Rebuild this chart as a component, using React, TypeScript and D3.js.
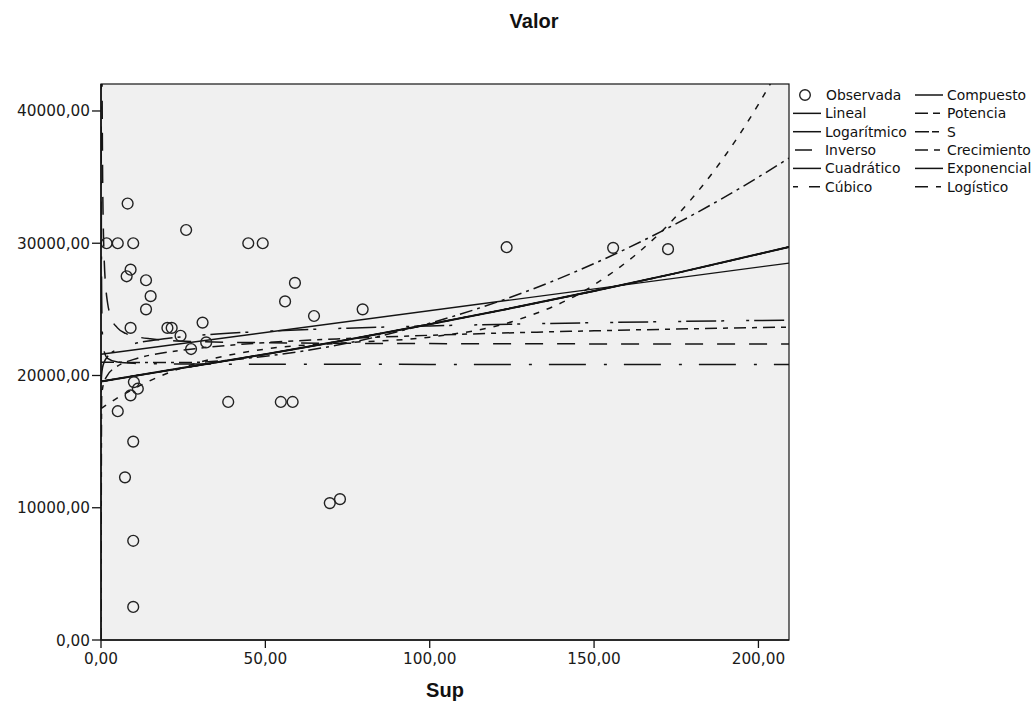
import React from "react";
import * as d3 from "d3";

// ---------- data ----------
const supValues = [1.7, 5.1, 9.8, 8.1, 25.9, 44.8, 49.2, 9.0, 7.8, 13.7, 59.0, 15.1, 56.0, 13.7, 64.8, 30.9, 9.0, 20.2, 21.5, 24.2, 32.0, 27.4, 10.0, 11.2, 9.0, 5.1, 38.7, 54.7, 58.3, 9.8, 7.3, 9.8, 9.8, 79.6, 123.4, 155.8, 172.5, 69.6, 72.7];
const valorValues = [30000, 30000, 30000, 33000, 31000, 30000, 30000, 28000, 27500, 27200, 27000, 26000, 25600, 25000, 24500, 24000, 23600, 23600, 23600, 23000, 22500, 22000, 19500, 19000, 18500, 17300, 18000, 18000, 18000, 15000, 12300, 7500, 2500, 25000, 29700, 29650, 29550, 10350, 10650];

const linealT = [0, 209.3];
const linealV = [21600, 28500];
const logT = [0.02, 0.05, 0.1, 0.2, 0.5, 1, 2, 5, 10, 20, 30, 50, 75, 100, 150, 209.3];
const logV = [18730, 19270, 19680, 20080, 20630, 21030, 21440, 21980, 22390, 22800, 23040, 23340, 23580, 23750, 23990, 24190];
const invT = [0.3, 0.5, 0.75, 1, 1.5, 2, 3, 5, 7.5, 10, 15, 20, 30, 50, 75, 100, 150, 209.3];
const invV = [43200, 34850, 30680, 28600, 26520, 25480, 24430, 23600, 23180, 22980, 22770, 22660, 22560, 22480, 22430, 22410, 22390, 22380];
const quadT = [0, 25, 50, 75, 100, 125, 150, 175, 200, 209.3];
const quadV = [21000, 20980, 21460, 22450, 23950, 25950, 28460, 31480, 35000, 36440];
const cubT = [0, 5, 10, 20, 30, 50, 75, 100, 125, 150, 175, 190, 200, 206];
const cubV = [17500, 18300, 19000, 20150, 21000, 22000, 22480, 22900, 24070, 26850, 32040, 36670, 40500, 43100];
const expT = [0, 25, 50, 75, 100, 125, 150, 175, 209.3];
const expV = [19550, 20580, 21610, 22710, 23880, 25100, 26390, 27740, 29720];
const powT = [0, 0.2, 0.5, 1, 2, 5, 10, 20, 30, 50, 75, 100, 150, 209.3];
const powV = [0, 18450, 19060, 19540, 20030, 20700, 21220, 21750, 22070, 22480, 22800, 23040, 23380, 23660];
const sT = [0.06, 0.08, 0.1, 0.15, 0.2, 0.3, 0.5, 1, 2, 5, 10, 20, 50, 100, 209.3];
const sV = [44500, 36600, 32700, 28100, 26000, 24260, 22800, 21790, 21300, 21020, 20920, 20880, 20850, 20840, 20830];

const xTicks = [0, 50, 100, 150, 200];
const yTicks = [0, 10000, 20000, 30000, 40000];
const title = "Valor";
const xTitle = "Sup";

// ---------- layout / style ----------
const W = 1036, H = 715;
const L = 101, R = 789, T = 84, B = 640;
const INK = "#141414";
const FONT = "'DejaVu Sans', sans-serif";
const BOLD = "'Liberation Sans', Arial, sans-serif";

type Curve = { name: string; t: number[]; v: number[]; dash: string; width: number; legendDash: string; col: number; row: number };

const curves: Curve[] = [
  { name: "Lineal", t: linealT, v: linealV, dash: "none", width: 1.4, legendDash: "none", col: 0, row: 1 },
  { name: "Logarítmico", t: logT, v: logV, dash: "3,5,30,5,3,22", width: 1.5, legendDash: "none", col: 0, row: 2 },
  { name: "Inverso", t: invT, v: invV, dash: "18,14", width: 1.5, legendDash: "0,2,17,40", col: 0, row: 3 },
  { name: "Cuadrático", t: quadT, v: quadV, dash: "13,5,3,5", width: 1.5, legendDash: "none", col: 0, row: 4 },
  { name: "Cúbico", t: cubT, v: cubV, dash: "6,8", width: 1.5, legendDash: "5,11,11,40", col: 0, row: 5 },
  { name: "Compuesto", t: expT, v: expV, dash: "none", width: 2.0, legendDash: "none", col: 1, row: 0 },
  { name: "Potencia", t: powT, v: powV, dash: "12,6,5,6", width: 1.5, legendDash: "13,5,7,40", col: 1, row: 1 },
  { name: "S", t: sT, v: sV, dash: "37,18,3,17", width: 1.5, legendDash: "14,3,7,40", col: 1, row: 2 },
  { name: "Crecimiento", t: expT, v: expV, dash: "12,6,5,6", width: 1.4, legendDash: "13,6,6,40", col: 1, row: 3 },
  { name: "Exponencial", t: expT, v: expV, dash: "none", width: 1.4, legendDash: "none", col: 1, row: 4 },
  { name: "Logístico", t: expT, v: expV, dash: "14,6,4,6", width: 1.4, legendDash: "13,8,5,40", col: 1, row: 5 },
];

const fmt = d3.formatLocale({ decimal: ",", thousands: "", grouping: [3], currency: ["", ""] }).format(".2f");

export default function App() {
  const x = d3.scaleLinear().domain([0, 209.3]).range([L, R]);
  const y = d3.scaleLinear().domain([0, 42040]).range([B, T]);
  const line = d3
    .line<[number, number]>()
    .x((d) => x(d[0]))
    .y((d) => y(d[1]))
    .curve(d3.curveMonotoneX);

  const legX0 = [793, 915];
  const legY0 = 95;
  const legDY = 18.35;

  return (
    <svg width={W} height={H} style={{ position: "absolute", left: 0, top: 0, background: "#fff" }}>
      <defs>
        <clipPath id="plotClip">
          <rect x={L} y={T} width={R - L} height={B - T} />
        </clipPath>
      </defs>
      <rect x={0} y={0} width={W} height={H} fill="#fff" />
      <rect x={L} y={T} width={R - L} height={B - T} fill="#f0f0f0" />

      <g clipPath="url(#plotClip)" fill="none" stroke={INK}>
        {curves.map((c) => (
          <path
            key={c.name}
            d={line(c.t.map((t, i) => [t, c.v[i]] as [number, number])) || ""}
            strokeWidth={c.width}
            strokeDasharray={c.dash}
          />
        ))}
      </g>

      <g clipPath="url(#plotClip)">
        {supValues.map((s, i) => (
          <circle key={i} cx={x(s)} cy={y(valorValues[i])} r={5.4} fill="none" stroke="#222" strokeWidth={1.4} />
        ))}
      </g>

      {/* frame */}
      <rect x={L} y={T} width={R - L} height={B - T} fill="none" stroke={INK} strokeWidth={1.2} />
      <line x1={L} x2={L} y1={T} y2={B} stroke={INK} strokeWidth={1.6} />
      <line x1={L} x2={R} y1={B} y2={B} stroke={INK} strokeWidth={1.4} />

      {/* y axis */}
      {yTicks.map((v) => (
        <g key={v}>
          <line x1={L - 9} x2={L} y1={y(v)} y2={y(v)} stroke={INK} strokeWidth={1.3} />
          <text x={L - 11} y={y(v)} dy="0.36em" textAnchor="end" fontFamily={FONT} fontSize={15.3} fill="#1a1a1a">
            {fmt(v)}
          </text>
        </g>
      ))}
      {/* x axis */}
      {xTicks.map((v) => (
        <g key={v}>
          <line x1={x(v)} x2={x(v)} y1={B} y2={B + 8} stroke={INK} strokeWidth={1.3} />
          <text x={x(v)} y={B + 24} textAnchor="middle" fontFamily={FONT} fontSize={15.3} fill="#1a1a1a">
            {fmt(v)}
          </text>
        </g>
      ))}

      <text x={534} y={28} textAnchor="middle" fontFamily={BOLD} fontWeight="bold" fontSize={20} fill="#111">
        {title}
      </text>
      <text x={(L + R) / 2} y={697} textAnchor="middle" fontFamily={BOLD} fontWeight="bold" fontSize={20} fill="#111">
        {xTitle}
      </text>

      {/* legend */}
      <g fontFamily={FONT} fontSize={13.9} fill="#111">
        <circle cx={805} cy={legY0} r={5.3} fill="none" stroke="#222" strokeWidth={1.4} />
        <text x={826} y={legY0} dy="0.36em">Observada</text>
        {curves.map((c) => {
          const ly = legY0 + c.row * legDY;
          const lx = legX0[c.col];
          return (
            <g key={c.name}>
              <line x1={lx} x2={lx + 28} y1={ly} y2={ly} stroke={INK} strokeWidth={1.5} strokeDasharray={c.legendDash} />
              <text x={lx + 32} y={ly} dy="0.36em">{c.name}</text>
            </g>
          );
        })}
      </g>
    </svg>
  );
}
